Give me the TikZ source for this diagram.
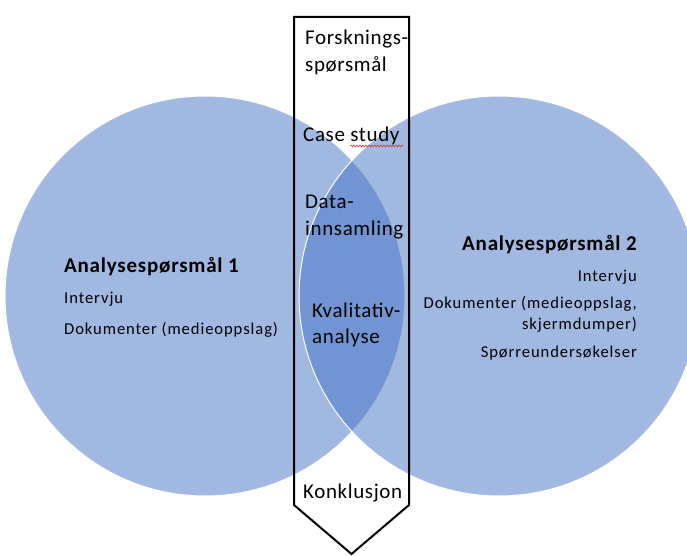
\documentclass[tikz,border=0pt]{standalone}
\usepackage{fontspec}
\setmainfont{Carlito}
\newfontfamily\ctfont[LetterSpace=3]{Carlito}
\newfontfamily\hdfont[LetterSpace=3.7]{Carlito}
\newfontfamily\smfont[LetterSpace=5.5]{Carlito}
\usetikzlibrary{decorations.pathmorphing}
\definecolor{vblue}{HTML}{4472C4}
\definecolor{spellred}{HTML}{E03030}
\begin{document}
\begin{tikzpicture}[x=1pt,y=-1pt,
  venn/.style={fill=vblue, fill opacity=0.5, draw=white, line width=1pt},
  ctext/.style={anchor=base west, inner sep=0pt, font=\ctfont\fontsize{21}{25}\selectfont},
  head/.style={inner sep=0pt, font=\hdfont\fontsize{21}{25}\selectfont\bfseries},
  small/.style={inner sep=0pt, font=\smfont\fontsize{16.6}{20}\selectfont},
  frame/.style={draw=black, line width=2pt, line join=miter}]
\useasboundingbox (0,0) rectangle (687,556);
\fill[white] (0,0) rectangle (687,556);
\begin{scope}
\clip (0,0) rectangle (687,556);
\path[venn] (205,296) circle[radius=200pt];
\path[venn] (499,296) circle[radius=200pt];
\end{scope}
\draw[frame] (294,17) -- (409,17) -- (409,505) -- (351.5,554) -- (294,505) -- cycle;
\node[ctext] (fq1) at (305,45) {Forsknings-};
\node[ctext] (fq2) at (305,72) {spørsmål};
\node[ctext] (cs) at (303,142) {Case study};
\node[ctext] (ds1) at (305,208) {Data-};
\node[ctext] (ds2) at (305,235) {innsamling};
\node[ctext] (ka1) at (312,317) {Kvalitativ-};
\node[ctext] (ka2) at (312,343) {analyse};
\node[ctext] (kon) at (303,498) {Konklusjon};
\draw[spellred, line width=0.6pt, decorate, decoration={snake, amplitude=0.9pt, segment length=3pt}] (350,146) -- (403,146);
\node[head, anchor=base west] (a1) at (64,272) {Analysespørsmål 1};
\node[small, anchor=base west] (a1i) at (64,303) {Intervju};
\node[small, anchor=base west] (a1d) at (64,334) {Dokumenter (medieoppslag)};
\node[head, anchor=base east] (a2) at (637,250) {Analysespørsmål 2};
\node[small, anchor=base east] (a2i) at (637,281) {Intervju};
\node[small, anchor=base east] (a2d1) at (637,308) {Dokumenter (medieoppslag,};
\node[small, anchor=base east] (a2d2) at (637,329) {skjermdumper)};
\node[small, anchor=base east] (a2s) at (637,357) {Spørreundersøkelser};
\end{tikzpicture}
\end{document}
